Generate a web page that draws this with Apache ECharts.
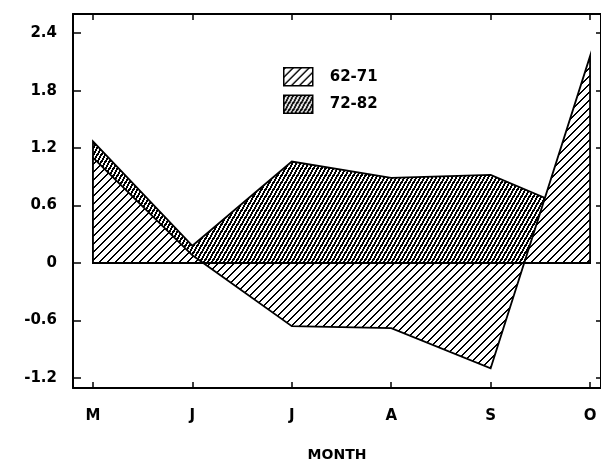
<!DOCTYPE html>
<html><head><meta charset="utf-8">
<script src="https://cdn.jsdelivr.net/npm/echarts@6/dist/echarts.min.js"></script>
<style>html,body{margin:0;padding:0;background:#fff}#c{width:601px;height:464px}</style>
</head><body><div id="c"></div>
<script>
const months = ['M', 'J', 'J', 'A', 'S', 'O'];
const monthPos = [0, 1, 2, 3, 4, 5];
const s6271 = [1.10, 0.08, -0.66, -0.68, -1.10, 2.16];
const s7282 = [1.27, 0.18, 1.06, 0.89, 0.92, 0.48];
const yTicks = [-1.2, -0.6, 0, 0.6, 1.2, 1.8, 2.4];
const seriesNames = ['62-71', '72-82'];

function makePattern(w, h, test) {
  const c = document.createElement('canvas');
  c.width = w; c.height = h;
  const ctx = c.getContext('2d');
  const img = ctx.createImageData(w, h);
  for (let y = 0; y < h; y++) for (let x = 0; x < w; x++) {
    const i = (y * w + x) * 4;
    const v = test(x, y) ? 0 : 255;
    img.data[i] = v; img.data[i + 1] = v; img.data[i + 2] = v; img.data[i + 3] = 255;
  }
  ctx.putImageData(img, 0, 0);
  return { image: c, repeat: 'repeat' };
}
const lightPat = makePattern(8, 8, (x, y) => ((x + y) % 8) < 2);
const darkPat = makePattern(4, 7, (x, y) => ((x * 7 + y * 4) % 28) < 15);

function areaSeries(name, vals, pat, z) {
  return {
    type: 'custom', name: name, z: z,
    coordinateSystem: 'cartesian2d',
    itemStyle: { color: pat, borderColor: '#000', borderWidth: 1.5 },
    data: monthPos.map((p, i) => [p, vals[i]]),
    renderItem: function (params, api) {
      if (params.dataIndex !== 0) return null;
      const pts = monthPos.map((p, i) => api.coord([p, vals[i]]));
      pts.push(api.coord([monthPos[monthPos.length - 1], 0]));
      pts.push(api.coord([monthPos[0], 0]));
      return {
        type: 'polygon',
        shape: { points: pts },
        style: { fill: pat, stroke: '#000', lineWidth: 1.8 }
      };
    }
  };
}

const font = 'DejaVu Sans';
const axisLine = { show: true, onZero: false, lineStyle: { color: '#000', width: 2 } };
const chart = echarts.init(document.getElementById('c'), null, { renderer: 'canvas' });
chart.setOption({
  animation: false,
  backgroundColor: '#fff',
  grid: { left: 73, right: 0, top: 14, bottom: 76, containLabel: false, outerBoundsMode: 'none' },
  legend: {
    orient: 'vertical', left: 278, top: 62,
    itemWidth: 29, itemHeight: 18, itemGap: 8,
    icon: 'rect',
    data: seriesNames,
    itemStyle: { borderColor: '#000', borderWidth: 1.5 },
    textStyle: { fontFamily: font, fontWeight: 'bold', fontSize: 15, color: '#000', padding: [0, 0, 0, 12] }
  },
  xAxis: [
    {
      type: 'value', min: -0.201, max: 5.11, position: 'bottom',
      axisLine: axisLine, splitLine: { show: false },
      name: 'MONTH', nameLocation: 'middle', nameGap: 60,
      nameTextStyle: { fontFamily: font, fontWeight: 'bold', fontSize: 14, color: '#000' },
      axisTick: { show: true, inside: true, length: 6, customValues: monthPos, lineStyle: { color: '#000', width: 1.5 } },
      axisLabel: { customValues: monthPos, margin: 21, formatter: v => months[Math.round(v)],
        fontFamily: font, fontWeight: 'bold', fontSize: 15, color: '#000' }
    },
    {
      type: 'value', min: -0.201, max: 5.11, position: 'top',
      axisLine: axisLine, splitLine: { show: false },
      axisTick: { show: true, inside: true, length: 6, customValues: monthPos, lineStyle: { color: '#000', width: 1.5 } },
      axisLabel: { show: false }
    }
  ],
  yAxis: [
    {
      type: 'value', min: -1.305, max: 2.60, position: 'left',
      axisLine: axisLine, splitLine: { show: false },
      axisTick: { show: true, inside: true, length: 8, customValues: yTicks, lineStyle: { color: '#000', width: 1.5 } },
      axisLabel: { customValues: yTicks, margin: 16, formatter: v => String(v),
        fontFamily: font, fontWeight: 'bold', fontSize: 15, color: '#000' }
    },
    {
      type: 'value', min: -1.305, max: 2.60, position: 'right',
      axisLine: axisLine, splitLine: { show: false },
      axisTick: { show: true, inside: true, length: 5, customValues: yTicks, lineStyle: { color: '#000', width: 1.5 } },
      axisLabel: { show: false }
    }
  ],
  series: [
    areaSeries(seriesNames[1], s7282, darkPat, 2),
    areaSeries(seriesNames[0], s6271, lightPat, 3)
  ]
});
</script></body></html>
